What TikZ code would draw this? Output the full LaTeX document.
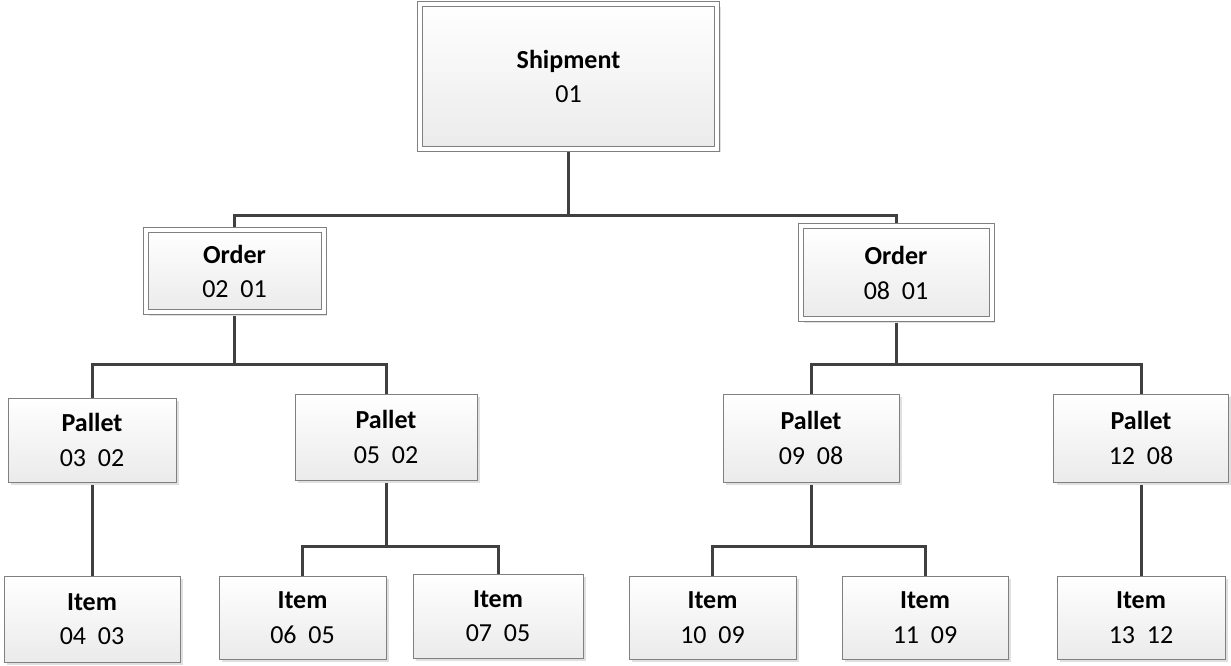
\documentclass[tikz,border=0pt]{standalone}
\usepackage{fontspec}
\setmainfont{Carlito}
\usetikzlibrary{shadows,backgrounds}

\begin{document}
\begin{tikzpicture}
      [ x=0.75pt, y=-0.75pt
      , wh/.style 2 args={minimum width=#1*0.75pt, minimum height=#2*0.75pt}
      , box/.style={draw=black!50, line width=0.75pt, top color=white, bottom color=black!8,
          align=center, inner sep=0pt, font=\fontsize{19.5}{23}\selectfont,
          drop shadow={shadow xshift=2.5pt, shadow yshift=-2.5pt, fill=black!12, opacity=1}}
      , dbox/.style={box, double=white, double distance=3pt}
      , link/.style={draw=black!75, line width=2.25pt}
      ]
    \useasboundingbox (0,0) rectangle (1231,666);

    \node[dbox, wh={297.5}{145}] (S) at (568.5,76.5) {\textbf{Shipment}\\[3pt]01};

    \node[dbox, wh={178}{82}] (O1) at (234.5,271.5) {\textbf{Order}\\[3pt]02\ \ 01};
    \node[dbox, wh={191}{93}] (O2) at (896,273) {\textbf{Order}\\[3pt]08\ \ 01};

    \node[box, wh={168}{84}] (P3) at (92,440) {\textbf{Pallet}\\[3pt]03\ \ 02};
    \node[box, wh={182}{86}] (P5) at (386,437) {\textbf{Pallet}\\[3pt]05\ \ 02};
    \node[box, wh={176}{88}] (P9) at (811,438) {\textbf{Pallet}\\[3pt]09\ \ 08};
    \node[box, wh={175}{88}] (P12) at (1141,438) {\textbf{Pallet}\\[3pt]12\ \ 08};

    \node[box, wh={176}{86}] (I4) at (92,619) {\textbf{Item}\\[3pt]04\ \ 03};
    \node[box, wh={167}{83}] (I6) at (302.5,617.5) {\textbf{Item}\\[3pt]06\ \ 05};
    \node[box, wh={170}{84}] (I7) at (498,616) {\textbf{Item}\\[3pt]07\ \ 05};
    \node[box, wh={167}{83}] (I10) at (712.5,617.5) {\textbf{Item}\\[3pt]10\ \ 09};
    \node[box, wh={166}{83}] (I11) at (925,617.5) {\textbf{Item}\\[3pt]11\ \ 09};
    \node[box, wh={168}{83}] (I13) at (1141,617.5) {\textbf{Item}\\[3pt]13\ \ 12};

    \begin{scope}[on background layer]
    \coordinate (b0) at (S.south |- 0,216);
    \coordinate (b1) at (O1.south |- 0,365);
    \coordinate (b2) at (O2.south |- 0,365);
    \coordinate (b5) at (P5.south |- 0,546);
    \coordinate (b9) at (P9.south |- 0,546);

    \draw[link]
    (S.south) -- (b0) -| (O1.north)
    (b0) -| (O2.north)

    (O1.south) -- (b1) -| (P3.north)
    (b1) -| (P5.north)
    (O2.south) -- (b2) -| (P9.north)
    (b2) -| (P12.north)

    (P3.south) -- (I4.north)
    (P5.south) -- (b5) -| (I6.north)
    (b5) -| (I7.north)
    (P9.south) -- (b9) -| (I10.north)
    (b9) -| (I11.north)
    (P12.south) -- (I13.north);
    \end{scope}
\end{tikzpicture}
\end{document}
